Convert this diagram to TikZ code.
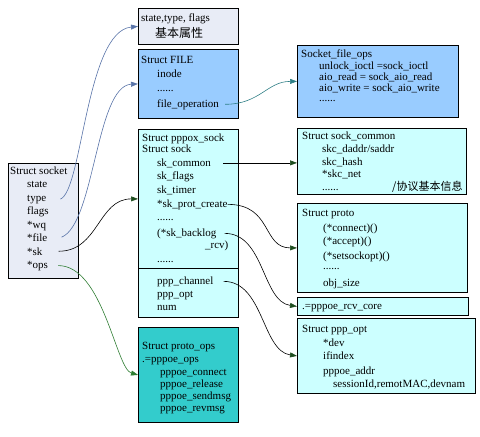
\documentclass[tikz,border=0pt]{standalone}
\usepackage{fontspec}
\setmainfont{Liberation Serif}
\newfontfamily\cjk{Noto Sans CJK SC}
\usetikzlibrary{arrows.meta}
\definecolor{paleblue}{HTML}{E8ECF6}
\definecolor{fileblue}{HTML}{99CCFF}
\definecolor{palecyan}{HTML}{CCFFFF}
\definecolor{opsteal}{HTML}{33CCCC}
\definecolor{linkblue}{HTML}{5873A8}
\definecolor{linkteal}{HTML}{2F7F86}
\definecolor{linkgreen}{HTML}{2E7D32}
\definecolor{tipgreen}{HTML}{1E4D1E}
\tikzset{
  box/.style={draw, line width=0.8pt, inner sep=0pt, anchor=north west},
  fld/.style={inner sep=0pt, anchor=base west, font=\fontsize{11}{13}\selectfont},
  link/.style={line width=0.6pt, -{Triangle[length=7pt,width=5pt]}},
  darklink/.style={line width=0.6pt, -{Triangle[length=7pt,width=5pt,color=tipgreen]}}
}

\begin{document}
\begin{tikzpicture}[x=1pt,y=-1pt]
  \useasboundingbox (0,0) rectangle (480,437);
  % struct boxes
  \node[box, fill=paleblue, minimum width=70pt, minimum height=115pt] (socket) at (8,163) {};
  \node[box, fill=paleblue, minimum width=100pt, minimum height=36pt] (stateb) at (138,8) {};
  \node[box, fill=fileblue, minimum width=100pt, minimum height=69pt] (fileb) at (138,49) {};
  \node[box, fill=palecyan, minimum width=100pt, minimum height=139pt] (pppox) at (138,129) {};
  \node[box, fill=palecyan, minimum width=100pt, minimum height=49pt] (pppoxlo) at (138,268) {};
  \node[box, fill=opsteal, minimum width=100pt, minimum height=95pt] (protoops) at (138,327) {};
  \node[box, fill=fileblue, minimum width=161pt, minimum height=72pt] (fileops) at (297,45) {};
  \node[box, fill=palecyan, minimum width=169pt, minimum height=66pt] (common) at (297,128) {};
  \node[box, fill=palecyan, minimum width=170pt, minimum height=89pt] (proto) at (297,203) {};
  \node[box, fill=palecyan, minimum width=171pt, minimum height=18pt] (rcvcore) at (297,297) {};
  \node[box, fill=palecyan, minimum width=178pt, minimum height=75pt] (pppopt) at (297,318) {};

  % struct socket
  \node[fld] (sockt) at (10,174) {Struct socket};
  \node[fld] (state) at (27,187) {state};
  \node[fld] (type) at (27,201) {type};
  \node[fld] (flags) at (27,214) {flags};
  \node[fld] (wq) at (27,228) {*wq};
  \node[fld] (file) at (27,241) {*file};
  \node[fld] (sk) at (27,255) {*sk};
  \node[fld] (ops) at (27,268) {*ops};

  % state, FILE
  \node[fld] (statet) at (141,21) {state,type, flags};
  \node[fld] (statecn) at (155,37) {\cjk\fontsize{12}{14}\selectfont 基本属性};
  \node[fld] (filet) at (141,63) {Struct FILE};
  \node[fld] (inode) at (157,77) {inode};
  \node[fld] (filedots) at (157,91) {......};
  \node[fld] (fileop) at (157,107) {file\_operation};

  % Socket_file_ops
  \node[fld] (fopst) at (301,57) {Socket\_file\_ops};
  \node[fld] (ioctl) at (319,69) {unlock\_ioctl =sock\_ioctl};
  \node[fld] (aiord) at (319,80) {aio\_read = sock\_aio\_read};
  \node[fld] (aiowr) at (319,91.5) {aio\_write = sock\_aio\_write};
  \node[fld] (fopsdots) at (319,101) {......};

  % pppox_sock
  \node[fld] (pppoxt) at (142,141) {Struct pppox\_sock};
  \node[fld] (sockst) at (142,152) {Struct sock};
  \node[fld] (skcommon) at (157,166) {sk\_common};
  \node[fld] (skflags) at (157,179) {sk\_flags};
  \node[fld] (sktimer) at (157,193) {sk\_timer};
  \node[fld] (protcreate) at (157,207) {*sk\_prot\_create};
  \node[fld] (skdots) at (157,220) {......};
  \node[fld] (backlog) at (157,236) {(*sk\_backlog};
  \node[fld] (backrcv) at (205,248) {\_rcv)};
  \node[fld] (skdots2) at (157,262) {......};
  \node[fld] (pppchan) at (157,284) {ppp\_channel};
  \node[fld] (pppoptf) at (157,297) {ppp\_opt};
  \node[fld] (num) at (157,310) {num};

  % proto_ops
  \node[fld] (opst) at (142,349) {Struct proto\_ops};
  \node[fld] (opsname) at (142,362) {.=pppoe\_ops};
  \node[fld] (opconn) at (160,375) {pppoe\_connect};
  \node[fld] (oprel) at (160,387) {pppoe\_release};
  \node[fld] (opsend) at (160,399) {pppoe\_sendmsg};
  \node[fld] (oprecv) at (160,411) {pppoe\_revmsg};

  % sock_common
  \node[fld] (commont) at (302,139) {Struct sock\_common};
  \node[fld] (daddr) at (322,152) {skc\_daddr/saddr};
  \node[fld] (hash) at (322,165) {skc\_hash};
  \node[fld] (net) at (322,177) {*skc\_net};
  \node[fld] (comdots) at (322,190) {......};
  \node[fld] (comcn) at (392,190) {\cjk\fontsize{11}{13}\selectfont /协议基本信息};

  % proto
  \node[fld] (protot) at (302,216) {Struct proto};
  \node[fld] (pconn) at (323,231) {(*connect)()};
  \node[fld] (paccept) at (323,244) {(*accept)()};
  \node[fld] (psetopt) at (323,259) {(*setsockopt)()};
  \node[fld] (pdots) at (323,269) {......};
  \node[fld] (objsize) at (323,286) {obj\_size};
  \node[fld] (rcvt) at (302,309) {.=pppoe\_rcv\_core};

  % ppp_opt
  \node[fld] (pppoptt) at (302,332) {Struct ppp\_opt};
  \node[fld] (dev) at (323,346) {*dev};
  \node[fld] (ifindex) at (323,359) {ifindex};
  \node[fld] (paddr) at (323,374) {pppoe\_addr};
  \node[fld] (sessid) at (333,387) {sessionId,remotMAC,devnam};

  % pointers
  \draw[link, linkblue] ([xshift=14pt]type.east) .. controls +(22,-8) and +(-52,5) .. (stateb.west);
  \draw[link, linkblue] ([xshift=14pt]file.east) .. controls +(33,-13) and +(-42,2) .. (fileb.west);
  \draw[darklink] ([xshift=16pt]sk.east) .. controls +(40,0) and +(-40,0) .. (pppox.west);
  \draw[link, linkgreen] ([xshift=10pt]ops.east) .. controls +(45,0) and +(-22,-6) .. (protoops.west);
  \draw[link, linkteal] ([xshift=6pt]fileop.east) .. controls +(35,0) and +(-30,0) .. (fileops.west);
  \draw[darklink] ([xshift=12pt]skcommon.east) -- (skcommon.east -| common.west);
  \draw[darklink] (protcreate.east) .. controls +(45,0) and +(-35,0) .. (proto.west);
  \draw[darklink] ([xshift=8pt]backlog.east) .. controls +(40,0) and +(-35,-5) .. (rcvcore.west);
  \draw[darklink] ([xshift=10pt]pppchan.east) .. controls +(40,0) and +(-35,-5) .. (pppopt.west);
\end{tikzpicture}
\end{document}
